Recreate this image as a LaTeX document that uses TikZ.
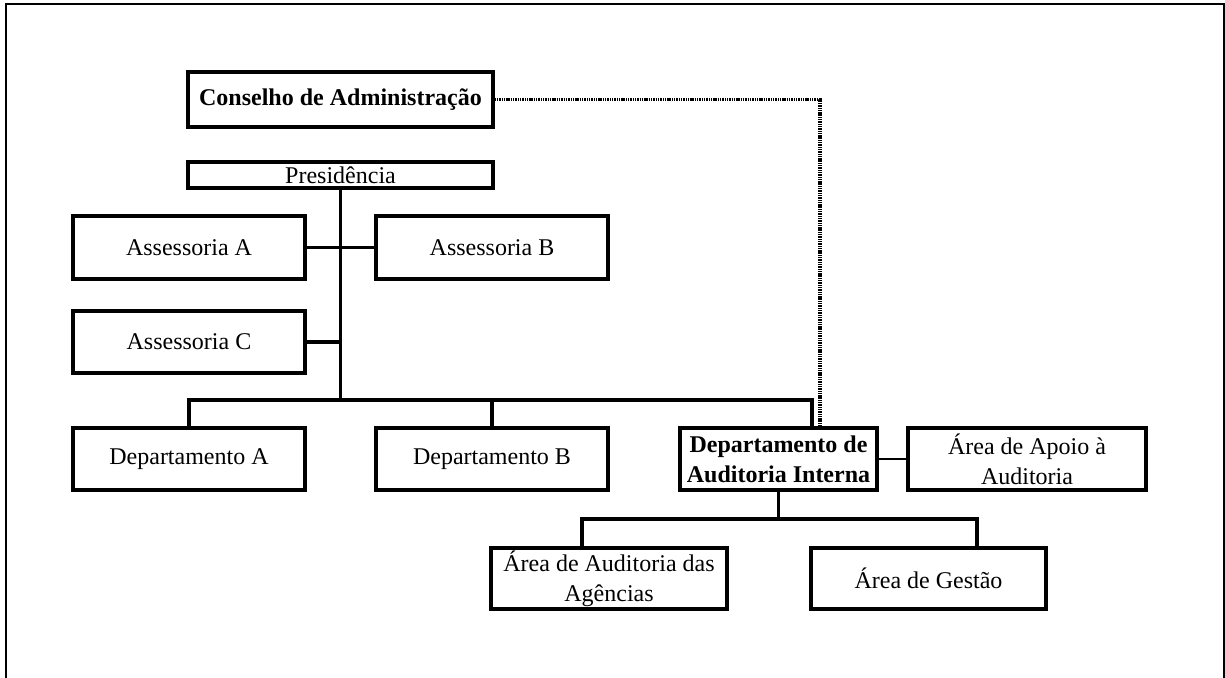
\documentclass[tikz,border=0pt]{standalone}
\usepackage{fontspec}
\setmainfont{Liberation Serif}
\begin{document}
\begin{tikzpicture}[x=1pt,y=-1pt,
  box/.style={draw, line width=3.2pt, inner sep=0pt, align=center,
              font=\fontsize{24}{30}\selectfont},
  boldbox/.style={box, font=\fontsize{24}{30}\selectfont\bfseries},
  link/.style={line width=3.2pt},
  thinlink/.style={line width=2.4pt},
  dotline/.style={line width=3.6pt, dash pattern=on 1.4pt off 0.9pt}]
\useasboundingbox (0,0) rectangle (1225,677);
\clip (0,0) rectangle (1225,677);
% outer frame (bottom edge lies below the page)
\draw[line width=2.8pt] (6,4) rectangle (1224.5,720);

% boxes
\node[boldbox, minimum width=305, minimum height=55] (cons) at (340.5,99.5) {Conselho de Administração};
\node[box, minimum width=305, minimum height=26] (pres) at (340.5,175) {Presidência};
\node[box, minimum width=232, minimum height=63] (assA) at (189,247.5) {Assessoria A};
\node[box, minimum width=232, minimum height=63] (assB) at (492,247.5) {Assessoria B};
\node[box, minimum width=232, minimum height=62] (assC) at (189,342) {Assessoria C};
\node[box, minimum width=232, minimum height=62] (depA) at (189,459) {Departamento A};
\node[box, minimum width=232, minimum height=62] (depB) at (492,459) {Departamento B};
\node[boldbox, minimum width=197, minimum height=62] (depAud) at (778.5,459) {Departamento de\\Auditoria Interna};
\node[box, minimum width=238, minimum height=62] (apoio) at (1027,459) {Área de Apoio à\\Auditoria};
\node[box, minimum width=236, minimum height=61] (agen) at (609,578.5) {Área de Auditoria das\\Agências};
\node[box, minimum width=235, minimum height=61] (gest) at (928.5,578.5) {Área de Gestão};

% junction points
\coordinate (trunk) at (340.5,400);
\coordinate (d3) at (812,400);
\coordinate (dv) at (820,0);
\coordinate (g1) at (582,519);
\coordinate (g2) at (977,519);

% presidency trunk and staff units
\draw[link] (pres.south) -- (trunk);
\draw[link] (assA.east) -- (assB.west);
\draw[link] (assC.east) -- (assC.east -| pres.south);

% departments bar
\draw[link] (depA.north) |- (d3) -- (d3 |- depAud.north);
\draw[link] (depB.north) -- (depB.north |- d3);

% board link to internal audit
\draw[dotline] (cons.east) -| (dv |- depAud.north);

% internal audit units
\draw[thinlink] (depAud.east) -- (apoio.west);
\draw[link] (depAud.south) -- (depAud.south |- g1);
\draw[link] (g1 |- agen.north) -- (g1) -- (g2) -- (g2 |- gest.north);
\end{tikzpicture}
\end{document}
